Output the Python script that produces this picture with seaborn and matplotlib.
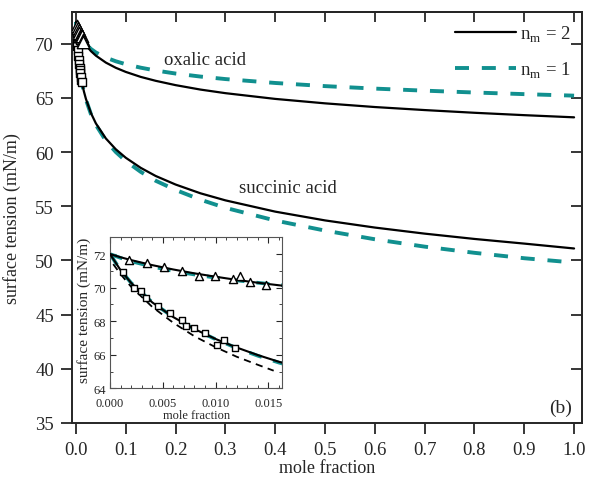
import numpy as np
import pandas as pd
import matplotlib
matplotlib.use("Agg")
import matplotlib.pyplot as plt
import seaborn as sns
from matplotlib.lines import Line2D

# ---------------- data ----------------
mole_fraction = [0, 0.001, 0.002, 0.004, 0.006, 0.008, 0.01, 0.012, 0.014, 0.016,
                 0.02, 0.03, 0.04, 0.06, 0.08, 0.1, 0.13, 0.16, 0.2, 0.25, 0.3,
                 0.4, 0.5, 0.6, 0.7, 0.8, 0.9, 1.0]
oxalic_nm2 = [72.0, 71.81, 71.64, 71.34, 71.08, 70.85, 70.65, 70.46, 70.29, 70.14,
              69.87, 69.31, 68.89, 68.25, 67.77, 67.39, 66.93, 66.57, 66.17, 65.76,
              65.43, 64.90, 64.49, 64.15, 63.87, 63.62, 63.40, 63.20]
oxalic_nm1 = [72.0, 71.77, 71.57, 71.25, 70.99, 70.78, 70.59, 70.43, 70.29, 70.16,
              69.94, 69.51, 69.18, 68.71, 68.37, 68.10, 67.78, 67.52, 67.24, 66.96,
              66.73, 66.37, 66.08, 65.85, 65.66, 65.49, 65.34, 65.20]
succinic_nm2 = [72.0, 71.04, 70.28, 69.12, 68.24, 67.53, 66.94, 66.43, 65.98, 65.58,
                64.90, 63.60, 62.64, 61.25, 60.25, 59.47, 58.54, 57.79, 57.0, 56.19,
                55.54, 54.50, 53.69, 53.03, 52.47, 51.98, 51.55, 51.10]
succinic_nm1 = [72.0, 71.04, 70.28, 69.12, 68.24, 67.52, 66.92, 66.40, 65.94, 65.53,
                64.84, 63.50, 62.50, 61.05, 60.00, 59.17, 58.17, 57.35, 56.50, 55.60,
                54.85, 53.68, 52.75, 51.95, 51.27, 50.70, 50.20, 49.80]

# extra dashed curve (inset only)
dash_x = [0.0003, 0.001, 0.002, 0.004, 0.006, 0.008, 0.01, 0.012, 0.014, 0.0155]
dash_y = [71.4, 70.8, 70.05, 68.85, 67.9, 67.1, 66.45, 65.88, 65.4, 65.05]

# measurements
oxalic_x = [0.00182, 0.00352, 0.00513, 0.00686, 0.00846, 0.00994, 0.01164, 0.0123, 0.01327, 0.01481]
oxalic_y = [71.64, 71.44, 71.22, 71.0, 70.72, 70.72, 70.52, 70.7, 70.34, 70.14]
succinic_x = [0.0012, 0.0023, 0.00292, 0.00343, 0.00459, 0.00572, 0.00682, 0.0072,
              0.00796, 0.00903, 0.01016, 0.01082, 0.01186]
succinic_y = [70.94, 70.0, 69.8, 69.4, 68.9, 68.48, 68.1, 67.72, 67.6, 67.3, 66.6, 66.9, 66.42]

main_xticks = [0.0, 0.1, 0.2, 0.3, 0.4, 0.5, 0.6, 0.7, 0.8, 0.9, 1.0]
main_yticks = [35, 40, 45, 50, 55, 60, 65, 70]
inset_xticks = [0.000, 0.005, 0.010, 0.015]
inset_yticks = [64, 66, 68, 70, 72]

# ---------------- style ----------------
sns.set_style("ticks")
plt.rcParams['font.family'] = ['Liberation Serif', 'DejaVu Serif']
plt.rcParams['mathtext.fontset'] = 'custom'
plt.rcParams['mathtext.rm'] = 'Liberation Serif'
TEAL = "#11908f"
DASH = (3.6, 3.3)

curves = pd.DataFrame({"x": mole_fraction, "ox2": oxalic_nm2, "ox1": oxalic_nm1,
                       "su2": succinic_nm2, "su1": succinic_nm1})

fig = plt.figure(figsize=(5.89, 4.85), dpi=100)
ax = fig.add_axes([0.1222, 0.1258, 0.866, 0.847])

def draw_curves(a, lw_solid, lw_dash, dash):
    sns.lineplot(data=curves, x="x", y="ox1", ax=a, color=TEAL, lw=lw_dash,
                 linestyle=(0, dash), zorder=2)
    sns.lineplot(data=curves, x="x", y="su1", ax=a, color=TEAL, lw=lw_dash,
                 linestyle=(0, dash), zorder=2)
    sns.lineplot(data=curves, x="x", y="ox2", ax=a, color="black", lw=lw_solid, zorder=3)
    sns.lineplot(data=curves, x="x", y="su2", ax=a, color="black", lw=lw_solid, zorder=3)

draw_curves(ax, 1.6, 2.8, DASH)
sns.scatterplot(x=succinic_x, y=succinic_y, ax=ax, marker="s", s=38, facecolor="white",
                edgecolor="black", linewidth=1.0, zorder=4)
sns.scatterplot(x=oxalic_x, y=oxalic_y, ax=ax, marker="^", s=80, facecolor="white",
                edgecolor="black", linewidth=1.0, zorder=4)

ax.set_xlim(-0.008, 1.016)
ax.set_ylim(35, 72.9)
ax.set_xticks(main_xticks)
ax.set_xticklabels([f"{v:.1f}" for v in main_xticks])
ax.set_yticks(main_yticks)
ax.tick_params(direction="out", length=8, width=1.3, labelsize=13.5, pad=5)
for s in ax.spines.values():
    s.set_linewidth(1.4)
top = ax.secondary_xaxis("top")
top.set_xticks(main_xticks)
top.tick_params(direction="in", length=7, width=1.3, labeltop=False)
right = ax.secondary_yaxis("right")
right.set_yticks(main_yticks)
right.tick_params(direction="in", length=8, width=1.3, labelright=False)
for sec in (top, right):
    for s in sec.spines.values():
        s.set_linewidth(1.4)

ax.set_xlabel("mole fraction", fontsize=13)
ax.xaxis.set_label_coords(0.5, -0.088)
ax.set_ylabel("surface tension (mN/m)", fontsize=13, labelpad=10)

ax.text(0.26, 68.5, "oxalic acid", fontsize=13.5, ha="center", va="center")
ax.text(0.426, 56.7, "succinic acid", fontsize=13.5, ha="center", va="center")
ax.text(0.995, 36.4, "(b)", fontsize=14, ha="right", va="center")

handles = [Line2D([0], [0], color="black", lw=1.6),
           Line2D([0], [0], color=TEAL, lw=2.8, linestyle=(0, DASH))]
leg = ax.legend(handles, [r"n$_\mathrm{m}$ = 2", r"n$_\mathrm{m}$ = 1"], loc="upper right",
                frameon=False, fontsize=13.5, handlelength=3.3, labelspacing=0.85,
                handletextpad=0.2, borderaxespad=0.2)

# ---------------- inset ----------------
ins = fig.add_axes([0.1868, 0.1973, 0.2922, 0.3114])
ins.set_facecolor("white")
draw_curves(ins, 1.5, 2.6, DASH)
sns.lineplot(x=dash_x, y=dash_y, ax=ins, color="black", lw=1.3, linestyle=(0, (4, 3)),
             zorder=3)
sns.scatterplot(x=oxalic_x, y=oxalic_y, ax=ins, marker="^", s=34, facecolor="white",
                edgecolor="black", linewidth=1.0, zorder=5)
sns.scatterplot(x=succinic_x, y=succinic_y, ax=ins, marker="s", s=22, facecolor="white",
                edgecolor="black", linewidth=1.0, zorder=5)
ins.set_xlim(0, 0.0163)
ins.set_ylim(64, 73)
ins.set_xticks(inset_xticks)
ins.set_xticklabels([f"{v:.3f}" for v in inset_xticks])
ins.set_yticks(inset_yticks)
ins.xaxis.set_minor_locator(matplotlib.ticker.MultipleLocator(0.001))
ins.yaxis.set_minor_locator(matplotlib.ticker.MultipleLocator(1))
ins.tick_params(which="both", direction="in", top=True, right=True, labelsize=9)
ins.tick_params(axis="x", pad=6)
ins.tick_params(axis="y", pad=3)
ins.tick_params(which="major", length=4, width=0.8)
ins.tick_params(which="minor", length=2, width=0.6)
for s in ins.spines.values():
    s.set_linewidth(0.8)
    s.set_color("#555555")
ins.set_xlabel("mole fraction", fontsize=9, labelpad=0)
ins.set_ylabel("surface tension (mN/m)", fontsize=11, labelpad=1)
ins.yaxis.set_label_coords(-0.11, 0.52)

fig.savefig("out.png", dpi=100)
